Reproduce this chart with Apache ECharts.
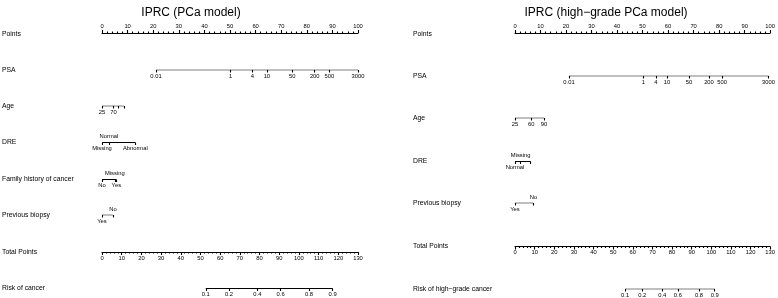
<!DOCTYPE html>
<html>
<head>
<meta charset="utf-8">
<script src="https://cdn.jsdelivr.net/npm/echarts@6/dist/echarts.min.js"></script>
<style>
  html, body { margin: 0; background: #fff; }
  #chart { width: 778px; height: 298px; }
</style>
</head>
<body>
<div id="chart"></div>
<script>
// ---- data (points positions) ----

// PCa model
const pcaPsaLabels = ['0.01', '1', '4', '10', '50', '200', '500', '3000']
const pcaPsaPoints = [21.1, 50.2, 58.7, 64.4, 74.3, 83.1, 88.8, 100]
const pcaAgeLabels = ['25', '70', '', '']
const pcaAgePoints = [0, 4.5, 6.4, 8.6]
const pcaDreLabels = ['Missing', 'Normal', 'Abnormal']
const pcaDrePoints = [0, 2.7, 13]
const pcaFamilyLabels = ['No', 'Missing', 'Yes']
const pcaFamilyPoints = [0, 5.0, 5.6]
const pcaBiopsyLabels = ['Yes', 'No']
const pcaBiopsyPoints = [0, 4.3]
const pcaRiskLabels = ['0.1', '0.2', '0.4', '0.6', '0.8', '0.9']
const pcaRiskTotals = [52.7, 64.5, 78.9, 90.7, 105.1, 117.1]

// high-grade PCa model
const hgPsaLabels = ['0.01', '1', '4', '10', '50', '200', '500', '3000']
const hgPsaPoints = [21.3, 50.6, 55.6, 59.9, 68.6, 76.5, 81.7, 100]
const hgAgeLabels = ['25', '60', '90']
const hgAgePoints = [0, 6.3, 11.3]
const hgDreLabels = ['Normal', 'Missing', '']
const hgDrePoints = [0, 2.2, 6.1]
const hgBiopsyLabels = ['Yes', 'No']
const hgBiopsyPoints = [0, 7.2]
const hgRiskLabels = ['0.1', '0.2', '0.4', '0.6', '0.8', '0.9']
const hgRiskTotals = [55.7, 64.4, 74.5, 82.4, 93.1, 101.0]

const POINTS_MAX = 100
const TOTAL_MAX = 130
const AXIS_STEP = 10

// ---- layout ----
const FONT = '"Liberation Sans", Arial, Helvetica, sans-serif'
const TICK_FONT = 5.8
const NAME_FONT = 6.8

const panels = [
  {
    title: 'IPRC (PCa model)', titleX: 191, nameX: 2, left: 102, width: 256, totalWidth: 256,
    pointsY: 33, totalY: 252,
    rows: [
      { name: 'PSA', y: 70, labels: pcaPsaLabels, values: pcaPsaPoints },
      { name: 'Age', y: 106, labels: pcaAgeLabels, values: pcaAgePoints },
      { name: 'DRE', y: 142.5, labels: pcaDreLabels, values: pcaDrePoints, above: ['Normal'] },
      { name: 'Family history of cancer', y: 179.5, labels: pcaFamilyLabels, values: pcaFamilyPoints, above: ['Missing'] },
      { name: 'Previous biopsy', y: 215, labels: pcaBiopsyLabels, values: pcaBiopsyPoints, above: ['No'] }
    ],
    risk: { name: 'Risk of cancer', y: 288.5, labels: pcaRiskLabels, values: pcaRiskTotals }
  },
  {
    title: 'IPRC (high\u2212grade PCa model)', titleX: 606, nameX: 413, left: 515, width: 256, totalWidth: 257,
    pointsY: 33, totalY: 246.5,
    rows: [
      { name: 'PSA', y: 76, labels: hgPsaLabels, values: hgPsaPoints },
      { name: 'Age', y: 118, labels: hgAgeLabels, values: hgAgePoints },
      { name: 'DRE', y: 161.5, labels: hgDreLabels, values: hgDrePoints, above: ['Missing'] },
      { name: 'Previous biopsy', y: 203, labels: hgBiopsyLabels, values: hgBiopsyPoints, above: ['No'] }
    ],
    risk: { name: 'Risk of high\u2212grade cancer', y: 289, labels: hgRiskLabels, values: hgRiskTotals }
  }
]

const grids = []
const xAxes = []
const yAxes = []
const series = []
const graphics = []

const blackLine = { color: '#000', width: 1.1 }
const tickText = { color: '#000', fontSize: TICK_FONT, fontFamily: FONT }

const addText = (text, x, y, size, align) => {
  graphics.push({
    type: 'text',
    x,
    y,
    silent: true,
    style: { text, fill: '#000', fontSize: size, fontFamily: FONT, align, verticalAlign: 'middle' }
  })
}

const addGrid = (left, width, top) => {
  const gi = grids.length
  grids.push({ left, width, top, height: 0 })
  yAxes.push({ gridIndex: gi, type: 'value', min: 0, max: 1, show: false })
  return gi
}

const labelFor = (labels, values) => v => {
  let best = 0
  values.forEach((p, i) => {
    if (Math.abs(p - v) < Math.abs(values[best] - v)) best = i
  })
  return labels[best]
}

// scale row with regular ticks (Points / Total Points)
const addScale = (left, width, y, max, position) => {
  const gi = addGrid(left, width, y)
  xAxes.push({
    gridIndex: gi,
    type: 'value',
    position,
    min: 0,
    max,
    interval: AXIS_STEP,
    axisLine: { show: true, lineStyle: blackLine },
    axisTick: { show: true, length: 3, lineStyle: blackLine },
    minorTick: { show: true, splitNumber: 5, length: 1.5, lineStyle: blackLine },
    splitLine: { show: false },
    axisLabel: { ...tickText, margin: position === 'top' ? 4 : 3 }
  })
}

// variable row: segment, ticks down, labels below/above
const addVariable = (left, width, row, max) => {
  const gi = addGrid(left, width, row.y)
  const above = row.above || []
  const fmt = labelFor(row.labels, row.values)
  const below = row.values.filter((v, i) => row.labels[i] && !above.includes(row.labels[i]))
  const top = row.values.filter((v, i) => above.includes(row.labels[i]))
  const xi = xAxes.length
  xAxes.push({
    gridIndex: gi,
    type: 'value',
    position: 'bottom',
    min: 0,
    max,
    axisLine: { show: false },
    splitLine: { show: false },
    axisTick: { show: true, length: 2.5, customValues: row.values, lineStyle: blackLine },
    axisLabel: { ...tickText, margin: 3, customValues: below, formatter: fmt }
  })
  if (top.length) {
    xAxes.push({
      gridIndex: gi,
      type: 'value',
      position: 'top',
      min: 0,
      max,
      axisLine: { show: false },
      splitLine: { show: false },
      axisTick: { show: false },
      axisLabel: { ...tickText, margin: 3, customValues: top, formatter: fmt }
    })
  }
  series.push({
    type: 'line',
    xAxisIndex: xi,
    yAxisIndex: gi,
    data: [[Math.min(...row.values), 0], [Math.max(...row.values), 0]],
    symbol: 'none',
    silent: true,
    lineStyle: blackLine
  })
}

panels.forEach(p => {
  addText(p.title, p.titleX, 13, 12, 'center')

  addText('Points', p.nameX, p.pointsY + 1, NAME_FONT, 'left')
  addScale(p.left, p.width, p.pointsY, POINTS_MAX, 'top')

  p.rows.forEach(row => {
    addText(row.name, p.nameX, row.y, NAME_FONT, 'left')
    addVariable(p.left, p.width, row, POINTS_MAX)
  })

  addText('Total Points', p.nameX, p.totalY, NAME_FONT, 'left')
  addScale(p.left, p.totalWidth, p.totalY, TOTAL_MAX, 'bottom')

  addText(p.risk.name, p.nameX, p.risk.y, NAME_FONT, 'left')
  addVariable(p.left, p.totalWidth, p.risk, TOTAL_MAX)
})

const chart = echarts.init(document.getElementById('chart'))
chart.setOption({
  animation: false,
  backgroundColor: '#fff',
  grid: grids,
  xAxis: xAxes,
  yAxis: yAxes,
  series,
  graphic: graphics
})
</script>
</body>
</html>
